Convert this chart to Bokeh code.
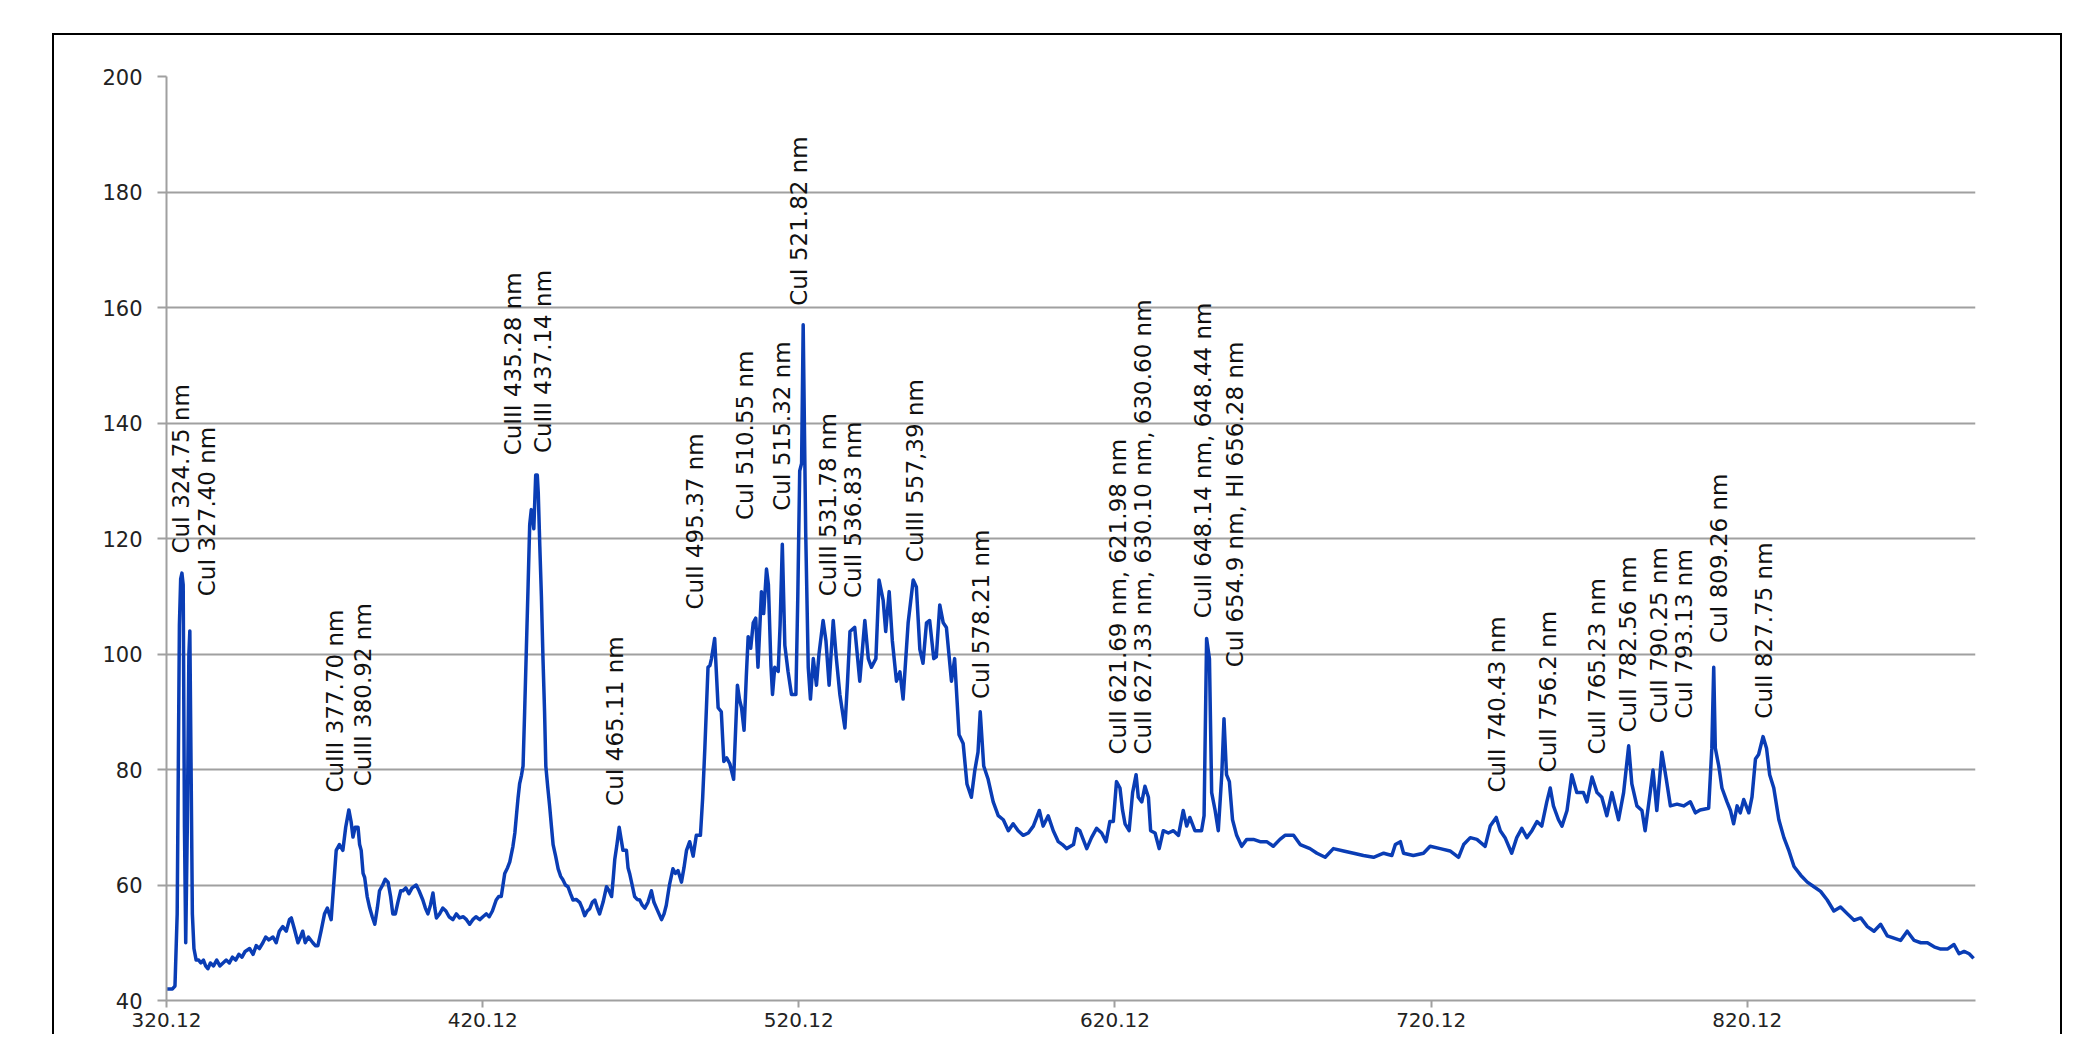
import math
from bokeh.plotting import figure
from bokeh.models import Range1d, FixedTicker, ColumnDataSource, Spacer, CustomJSTickFormatter
from bokeh.layouts import row, column
from bokeh.core.properties import value
from bokeh.embed import file_html
from bokeh.resources import INLINE

# ---------------- data ----------------
wavelength = [
    320.12, 321.0, 322.0, 322.8, 323.5, 324.2, 324.6, 325.0, 325.4, 325.8, 326.2, 326.7, 327.2, 327.5, 327.9,
    328.3, 328.8, 329.5, 330.3, 331.0, 331.8, 332.5, 333.2, 334.0, 335.0, 336.0, 337.0, 338.0, 339.0, 340.0,
    341.0, 342.0, 343.0, 344.0, 345.0, 346.4, 347.5, 348.5, 349.5, 350.6, 351.5, 352.5, 353.8, 354.8, 355.8,
    356.9, 358.0, 359.0, 359.6, 360.5, 361.7, 362.5, 363.2, 364.0, 365.0, 366.4, 367.2, 368.0, 369.0, 370.1,
    371.0, 372.2, 373.0, 373.8, 374.8, 375.9, 376.8, 377.8, 378.5, 379.1, 379.8, 380.7, 381.2, 381.7, 382.3,
    382.8, 383.6, 384.4, 385.2, 386.0, 386.8, 387.5, 388.5, 389.3, 390.2, 391.0, 391.7, 392.5, 393.3, 394.2,
    394.9, 395.8, 396.8, 397.8, 399.1, 400.0, 401.2, 402.0, 402.8, 403.6, 404.4, 405.0, 405.5, 406.5, 407.5,
    408.5, 409.5, 410.7, 411.8, 412.8, 414.0, 415.0, 416.0, 417.0, 418.0, 419.2, 420.2, 421.3, 422.2, 423.2,
    424.4, 425.2, 426.0, 427.1, 428.0, 428.7, 429.7, 430.3, 430.8, 431.3, 431.8, 432.4, 432.9, 433.4, 433.9,
    434.5, 435.0, 435.5, 436.0, 436.3, 436.9, 437.4, 437.7, 438.2, 438.7, 439.2, 439.7, 440.1, 440.7, 441.3,
    441.9, 442.4, 443.2, 444.0, 444.8, 445.5, 446.3, 447.1, 447.9, 448.7, 449.7, 450.8, 451.6, 452.4, 453.2,
    454.0, 454.8, 455.6, 456.4, 457.1, 458.2, 459.3, 460.1, 460.9, 461.4, 461.9, 462.6, 463.3, 463.9, 464.5,
    465.6, 466.1, 466.6, 467.4, 468.2, 469.0, 469.8, 470.6, 471.4, 472.4, 473.5, 474.3, 475.1, 475.9, 476.7,
    477.5, 478.2, 479.2, 480.3, 481.1, 481.9, 483.0, 483.8, 484.6, 485.6, 486.7, 487.7, 489.0, 489.7, 490.4,
    491.4, 492.0, 492.5, 493.5, 494.6, 495.6, 496.4, 497.3, 498.3, 499.5, 500.7, 501.4, 502.0, 502.8, 503.5,
    504.1, 504.9, 505.7, 506.5, 507.2, 508.3, 509.0, 509.9, 510.5, 511.3, 511.8, 512.5, 513.6, 514.2, 514.9,
    515.7, 516.7, 517.8, 519.2, 519.8, 520.4, 521.0, 521.5, 522.3, 523.1, 523.8, 524.7, 525.7, 526.5, 527.8,
    528.7, 529.7, 531.0, 532.0, 533.1, 534.7, 535.5, 536.3, 537.8, 539.4, 541.0, 542.1, 543.1, 544.5, 545.5,
    546.8, 547.6, 548.7, 549.7, 551.0, 552.1, 553.1, 554.7, 556.3, 557.3, 558.4, 559.4, 560.5, 561.5, 562.8,
    563.6, 564.7, 565.8, 566.8, 568.4, 569.4, 570.8, 572.1, 573.3, 574.7, 575.8, 576.8, 577.5, 578.6, 580.0,
    581.6, 583.2, 584.8, 586.4, 587.9, 589.5, 591.1, 592.7, 594.3, 596.2, 597.4, 599.0, 600.6, 602.2, 603.5,
    604.8, 607.0, 608.0, 609.0, 610.0, 611.2, 612.7, 614.3, 615.9, 617.3, 618.5, 619.6, 620.6, 621.7, 622.5,
    623.3, 624.6, 625.7, 626.8, 627.5, 628.6, 629.6, 630.7, 631.4, 632.8, 634.1, 635.4, 637.0, 638.6, 640.2,
    641.7, 642.8, 643.8, 645.4, 647.5, 648.3, 649.1, 650.0, 650.7, 651.8, 652.8, 653.9, 654.6, 655.4, 656.3,
    657.3, 658.6, 660.2, 661.8, 663.9, 666.0, 668.1, 670.2, 672.3, 673.9, 676.6, 678.7, 681.8, 684.0, 686.6,
    689.2, 692.4, 695.6, 698.7, 701.9, 705.1, 707.7, 708.8, 710.4, 711.4, 714.5, 717.7, 719.8, 723.0, 726.1,
    728.8, 730.4, 732.5, 734.6, 737.2, 738.8, 740.7, 742.0, 743.5, 745.6, 747.2, 748.8, 750.4, 752.0, 753.6,
    755.1, 756.7, 757.8, 758.8, 760.4, 761.5, 763.1, 764.6, 766.2, 768.3, 769.4, 771.0, 772.6, 774.1, 775.7,
    777.3, 779.4, 781.0, 782.6, 783.6, 785.2, 786.8, 787.8, 789.4, 790.3, 791.5, 793.1, 794.5, 795.8, 797.9,
    800.0, 802.1, 803.7, 805.2, 807.9, 808.9, 809.5, 810.0, 811.1, 812.1, 813.7, 814.8, 815.8, 816.9, 817.9,
    819.0, 820.6, 821.6, 822.7, 823.7, 825.1, 826.2, 827.2, 828.5, 830.1, 831.7, 833.3, 834.9, 837.0, 839.1,
    841.2, 843.3, 845.4, 847.5, 849.6, 851.8, 853.9, 856.0, 858.1, 860.2, 862.3, 864.4, 866.5, 868.6, 870.7,
    872.9, 875.0, 877.1, 879.2, 881.3, 883.4, 885.5, 887.1, 888.7, 890.3, 891.7,
]

intensity = [
    42, 42, 42, 42.5, 55, 105, 113, 114, 112, 70, 50, 70, 100, 104, 80,
    55, 49, 47, 47, 46.5, 47, 46, 45.5, 46.5, 46, 47, 46, 46.5, 47, 46.5,
    47.5, 47, 48, 47.5, 48.5, 49, 48, 49.5, 49, 50, 51, 50.5, 51, 50, 52,
    52.8, 52, 54, 54.3, 52.5, 50, 51, 52, 50, 51, 50, 49.5, 49.5, 52, 55,
    56, 54, 60, 66, 67, 66, 70, 73, 71, 68.3, 70, 70, 67, 66, 62,
    61.3, 58, 56, 54.5, 53.2, 56, 59, 60, 61, 60.5, 58, 55, 55, 57, 59,
    59, 59.5, 58.5, 59.5, 60, 59, 57.4, 56, 55, 56.5, 58.6, 56, 54.3, 55, 56,
    55.5, 54.5, 54, 55, 54.3, 54.5, 54, 53.2, 54, 54.5, 54, 54.5, 55, 54.5, 55.5,
    57.4, 58, 58, 62, 63, 64, 66.7, 69, 72, 75, 77.5, 79, 80.6, 90, 100,
    112, 122.4, 125, 123, 121.7, 131, 131, 128, 118.6, 110, 99.2, 90, 80.6, 77, 73.7,
    70, 67, 65, 62.8, 61.5, 60.9, 60, 59.7, 58.5, 57.4, 57.5, 57, 56, 54.7, 55.5,
    55.9, 57, 57.4, 56, 55, 57, 59.7, 59, 58, 61, 64.4, 67, 70, 68, 66,
    66, 63, 62, 60, 58, 57.5, 57.4, 56.5, 56, 57, 59, 57, 56, 55, 54,
    55, 56.5, 60, 62.8, 62, 62.5, 60.5, 63, 66, 67.5, 65, 68.6, 68.6, 75, 83.7,
    97.7, 98, 99.2, 102.7, 90.7, 90, 81.4, 82, 81, 78.3, 94.6, 92, 90.7, 86.8, 96,
    103, 101, 105.4, 106.2, 97.7, 110.8, 107, 114.7, 112, 98, 93, 97.7, 97, 105, 119,
    101.5, 97, 93, 93, 110, 131.7, 133, 157, 121, 97.7, 92.2, 99.2, 94.6, 100, 105.8,
    102.3, 94.6, 105.8, 99.2, 93, 87.2, 95, 103.9, 104.6, 95.3, 105.8, 99.2, 97.7, 99.2, 112.8,
    109.3, 103.9, 110.8, 102.3, 95.3, 96.9, 92.2, 105.4, 112.8, 111.6, 100.8, 98.4, 105.4, 105.8, 99.2,
    99.5, 108.5, 105.4, 104.6, 95.3, 99.2, 86, 84.5, 77.5, 75.2, 79.9, 83, 90, 80.6, 78.3,
    74.4, 72, 71.3, 69.4, 70.6, 69.4, 68.6, 69, 70.2, 72.9, 70.2, 72, 69.4, 67.5, 67,
    66.3, 67, 69.8, 69.4, 68, 66.3, 68.2, 69.8, 69, 67.5, 71, 71, 77.9, 76.8, 73,
    70.6, 69.4, 76, 79.1, 75.2, 74.4, 77.1, 75.2, 69.4, 69, 66.3, 69.4, 69, 69.4, 68.6,
    72.9, 70.2, 71.7, 69.4, 69.4, 72, 102.7, 99.2, 76, 72.9, 69.4, 79.1, 88.8, 79.1, 77.9,
    71.3, 68.6, 66.7, 67.9, 67.9, 67.5, 67.5, 66.7, 67.9, 68.6, 68.6, 67, 66.3, 65.5, 64.8,
    66.3, 65.9, 65.5, 65.1, 64.8, 65.5, 65.1, 67, 67.5, 65.5, 65.1, 65.5, 66.7, 66.3, 65.9,
    64.8, 67, 68.2, 67.9, 66.7, 70.2, 71.7, 69.4, 68.2, 65.5, 68.2, 69.8, 68.2, 69.4, 71,
    70.2, 74.4, 76.8, 73.7, 71.3, 70.2, 72.9, 79.1, 76, 76, 74.4, 78.7, 76, 75.2, 72,
    76, 71.3, 76, 84.1, 77.5, 73.7, 72.9, 69.4, 76, 79.9, 72.9, 83, 78.3, 73.7, 74,
    73.7, 74.4, 72.5, 73, 73.3, 83.7, 97.7, 83.7, 80.6, 76.8, 74.4, 72.9, 70.6, 73.7, 72.5,
    74.8, 72.5, 75.2, 81.8, 82.6, 85.7, 83.7, 79.1, 76.8, 71.3, 68.2, 65.9, 63.2, 61.7, 60.5,
    59.7, 58.9, 57.4, 55.5, 56.2, 55, 53.9, 54.3, 52.8, 52, 53.2, 51.2, 50.8, 50.4, 52,
    50.4, 50, 50, 49.3, 48.9, 48.9, 49.7, 48.1, 48.5, 48.1, 47.3,
]

x_tick_values = [320.12, 420.12, 520.12, 620.12, 720.12, 820.12]
y_tick_values = [40, 60, 80, 100, 120, 140, 160, 180, 200]

peak_labels = [
    "CuI 324.75 nm", "CuI 327.40 nm", "CuIII 377.70 nm", "CuIII 380.92 nm",
    "CuIII 435.28 nm", "CuIII 437.14 nm", "CuI 465.11 nm", "CuII 495.37 nm",
    "CuI 510.55 nm", "CuI 515.32 nm", "CuI 521.82 nm", "CuIII 531.78 nm",
    "CuII 536.83 nm", "CuIII 557,39 nm", "CuI 578.21 nm",
    "CuII 621.69 nm, 621.98 nm", "CuII 627.33 nm, 630.10 nm, 630.60 nm",
    "CuII 648.14 nm, 648.44 nm", "CuI  654.9 nm, HI 656.28 nm",
    "CuII 740.43 nm", "CuII 756.2 nm", "CuII 765.23 nm", "CuII 782.56 nm",
    "CuII 790.25 nm", "CuI 793.13 nm", "CuI 809.26 nm", "CuII 827.75 nm",
]
label_x = [324.8, 332.9, 373.3, 382.2, 429.7, 439.2, 461.9, 487.2, 503.0, 514.7, 520.3, 529.4,
           537.1, 556.8, 577.8, 621.2, 629.1, 648.0, 658.0, 741.1, 757.2, 772.6, 782.3,
           792.1, 800.0, 811.1, 825.3]
label_y = [117.4, 110.0, 76.0, 77.1, 134.4, 134.8, 73.7, 107.7, 123.2, 124.8, 160.3, 110.0,
           109.7, 115.9, 92.2, 82.6, 82.6, 106.2, 97.7, 76.0, 79.5, 82.6, 86.4,
           88.0, 88.8, 101.9, 88.8]

# ---------------- figure ----------------
FONT = "DejaVu Sans"
GRID = "#a0a0a0"

p = figure(width=2010, height=1001,
           x_range=Range1d(320.12, 892.3), y_range=Range1d(40, 200),
           output_backend="svg", toolbar_location=None,
           min_border_left=112, min_border_right=89, min_border_top=41, min_border_bottom=36)
p.background_fill_color = "white"
p.border_fill_color = "white"
p.outline_line_color = None
p.styles = {"border-left": "2px solid black", "border-top": "2px solid black",
            "border-right": "2px solid black"}

src = ColumnDataSource(dict(x=wavelength, y=intensity))
p.line("x", "y", source=src, line_color="#0a3db5", line_width=3.5, line_join="round")

lsrc = ColumnDataSource(dict(x=label_x, y=label_y, t=peak_labels))
p.text("x", "y", text="t", source=lsrc, angle=math.pi / 2,
       text_align="left", text_baseline="middle",
       text_font=value(FONT), text_font_size="23px", text_color="#111111")

# grid
p.xgrid.grid_line_color = None
p.ygrid.grid_line_color = GRID
p.ygrid.grid_line_width = 2
p.ygrid.ticker = FixedTicker(ticks=y_tick_values)

# y axis
p.yaxis.ticker = FixedTicker(ticks=y_tick_values)
p.yaxis.axis_line_color = GRID
p.yaxis.axis_line_width = 2
p.yaxis.major_tick_line_color = GRID
p.yaxis.major_tick_line_width = 2
p.yaxis.major_tick_out = 9
p.yaxis.major_tick_in = 0
p.yaxis.minor_tick_line_color = None
p.yaxis.major_label_text_font = FONT
p.yaxis.major_label_text_font_size = "21px"
p.yaxis.major_label_text_color = "#222222"
p.yaxis.major_label_standoff = 15

# x axis
p.xaxis.ticker = FixedTicker(ticks=x_tick_values)
p.xaxis.formatter = CustomJSTickFormatter(code="return tick.toFixed(2);")
p.xaxis.axis_line_color = GRID
p.xaxis.axis_line_width = 2
p.xaxis.major_tick_line_color = GRID
p.xaxis.major_tick_line_width = 2
p.xaxis.major_tick_out = 7
p.xaxis.major_tick_in = 0
p.xaxis.minor_tick_line_color = None
p.xaxis.major_label_text_font = FONT
p.xaxis.major_label_text_font_size = "20px"
p.xaxis.major_label_text_color = "#222222"
p.xaxis.major_label_standoff = 5

layout = column(Spacer(height=33), row(Spacer(width=52), p))

open("out.html", "w").write(file_html(layout, INLINE))
